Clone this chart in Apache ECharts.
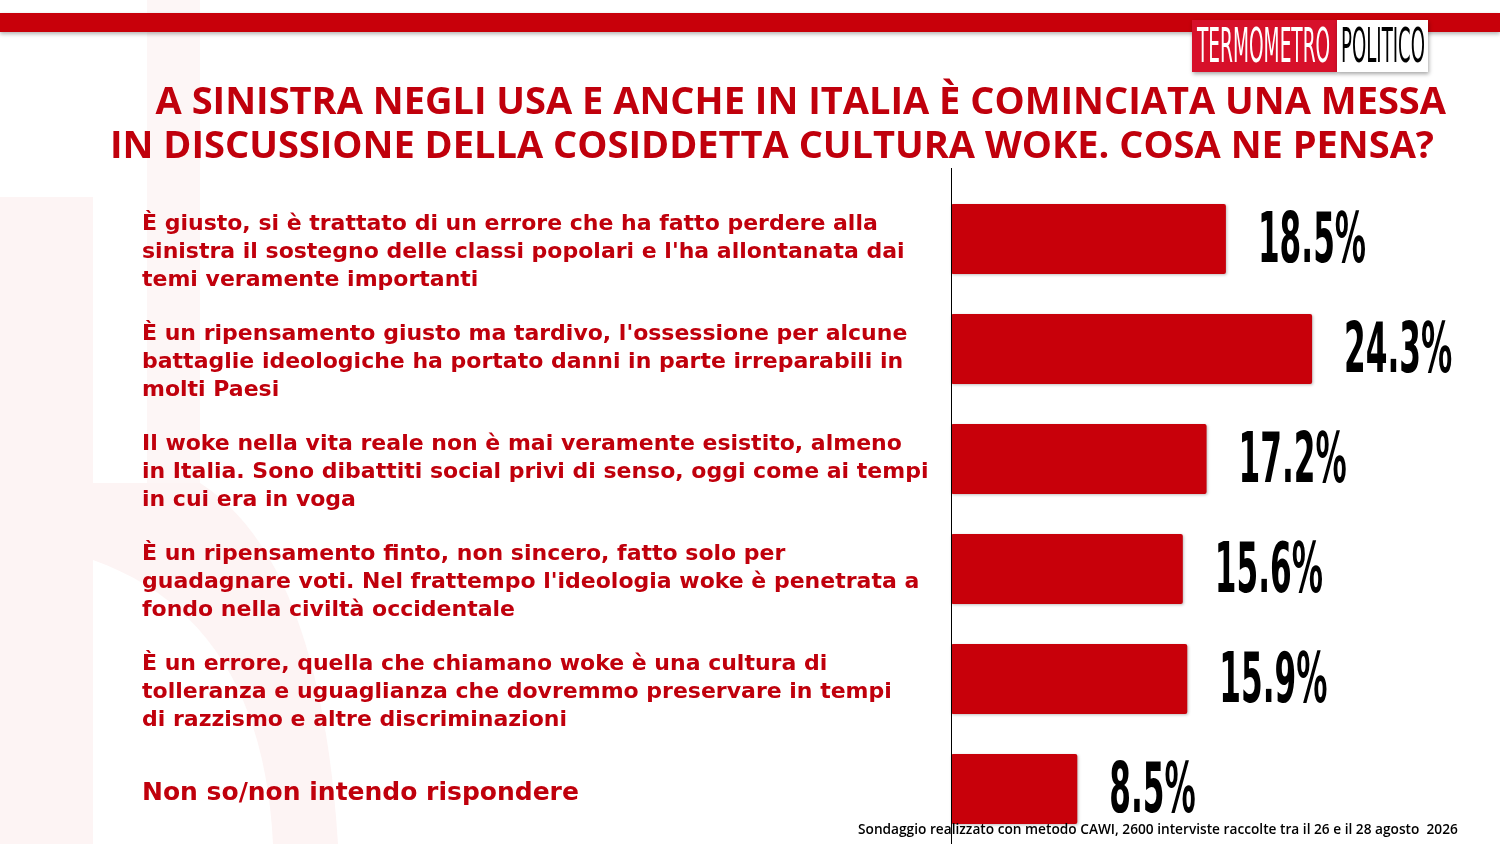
<!DOCTYPE html>
<html>
<head>
<meta charset="utf-8">
<script src="https://cdn.jsdelivr.net/npm/echarts@6/dist/echarts.min.js"></script>
<style>
html,body{margin:0;padding:0;background:#fff;}
#chart{width:1500px;height:844px;}
</style>
</head>
<body>
<div id="chart"></div>
<script>
const titleLines = [
  'A SINISTRA NEGLI USA E ANCHE IN ITALIA È COMINCIATA UNA MESSA',
  'IN DISCUSSIONE DELLA COSIDDETTA CULTURA WOKE. COSA NE PENSA?'
];
const categories = [
  "È giusto, si è trattato di un errore che ha fatto perdere alla\nsinistra il sostegno delle classi popolari e l'ha allontanata dai\ntemi veramente importanti",
  "È un ripensamento giusto ma tardivo, l'ossessione per alcune\nbattaglie ideologiche ha portato danni in parte irreparabili in\nmolti Paesi",
  "Il woke nella vita reale non è mai veramente esistito, almeno\nin Italia. Sono dibattiti social privi di senso, oggi come ai tempi\nin cui era in voga",
  "È un ripensamento finto, non sincero, fatto solo per\nguadagnare voti. Nel frattempo l'ideologia woke è penetrata a\nfondo nella civiltà occidentale",
  "È un errore, quella che chiamano woke è una cultura di\ntolleranza e uguaglianza che dovremmo preservare in tempi\ndi razzismo e altre discriminazioni",
  "Non so/non intendo rispondere"
];
const values = [18.5, 24.3, 17.2, 15.6, 15.9, 8.5];
const footnote = 'Sondaggio realizzato con metodo CAWI, 2600 interviste raccolte tra il 26 e il 28 agosto  2026';

const RED = '#c8000a';
const TXT = '#c0000c';
const WM = '#fdf4f4';

// decorative watermark bowl (quadratic curves sampled into a polygon)
function quad(p0, p1, p2, n) {
  const pts = [];
  for (let k = 0; k <= n; k++) {
    const t = k / n, u = 1 - t;
    pts.push([u*u*p0[0] + 2*u*t*p1[0] + t*t*p2[0], u*u*p0[1] + 2*u*t*p1[1] + t*t*p2[1]]);
  }
  return pts;
}
const bowl = [[93, 483]].concat(
  quad([200, 483], [320, 560], [338, 844], 24),
  quad([273, 844], [262, 620], [93, 560], 24)
);

const chart = echarts.init(document.getElementById('chart'), null, {renderer: 'canvas'});

const labelData = values.map((v, i) => [v, i]);

chart.setOption({
  backgroundColor: '#ffffff',
  animation: false,
  title: [
    {text: titleLines[0], right: 54, top: 84, padding: 0,
     textStyle: {fontFamily: 'Open Sans', fontWeight: 'bold', fontSize: 38, color: TXT}},
    {text: titleLines[1], right: 66, top: 128, padding: 0,
     textStyle: {fontFamily: 'Open Sans', fontWeight: 'bold', fontSize: 38, color: TXT}}
  ],
  grid: {left: 951, right: 103.2, top: 184, bottom: 0, containLabel: false},
  xAxis: {type: 'value', min: 0, max: 30, show: false},
  yAxis: {
    type: 'category', data: categories, inverse: true,
    axisLine: {show: false}, axisTick: {show: false},
    axisLabel: {
      margin: 809, align: 'left', color: TXT,
      fontFamily: 'DejaVu Sans', fontWeight: 'bold', fontSize: 22, lineHeight: 28,
      padding: [26, 0, 0, 0],
      formatter: function (v, i) { return i === 5 ? '{big|' + v + '}' : v; },
      rich: {big: {fontFamily: 'DejaVu Sans', fontWeight: 'bold', fontSize: 25, color: TXT, padding: [0, 0, 18, 0]}}
    }
  },
  series: [
    {
      type: 'bar', data: values, barWidth: 70,
      itemStyle: {color: RED, borderRadius: 2, shadowColor: 'rgba(0,0,0,0.25)', shadowBlur: 3, shadowOffsetX: 1, shadowOffsetY: 1},
      z: 2
    },
    {
      type: 'custom', data: labelData, encode: {x: 0, y: 1}, z: 3,
      renderItem: function (params, api) {
        const v = api.value(0);
        const p = api.coord([v, api.value(1)]);
        return {
          type: 'text', x: p[0] + 32, y: p[1] + 5, scaleX: 0.495,
          style: {
            text: v.toFixed(1) + '%',
            font: 'bold 70px "DejaVu Sans Condensed", "Liberation Sans Narrow", "Liberation Sans"',
            fill: '#000', stroke: '#fff', lineWidth: 3,
            align: 'left', verticalAlign: 'middle',
            shadowColor: 'rgba(0,0,0,0.3)', shadowBlur: 2, shadowOffsetX: 1, shadowOffsetY: 1
          }
        };
      }
    }
  ],
  graphic: [
    {type: 'rect', z: -10, shape: {x: 0, y: 197, width: 93, height: 647}, style: {fill: WM}},
    {type: 'rect', z: -10, shape: {x: 147, y: 0, width: 53, height: 484}, style: {fill: '#fdf6f6'}},
    {type: 'polygon', z: -10, shape: {points: bowl}, style: {fill: WM}},
    {type: 'rect', z: 5, shape: {x: 0, y: 13, width: 1500, height: 19},
     style: {fill: RED, shadowColor: 'rgba(0,0,0,0.3)', shadowBlur: 4, shadowOffsetY: 2}},
    {type: 'rect', z: 6, shape: {x: 1192, y: 20, width: 145, height: 52},
     style: {fill: '#d7102a', shadowColor: 'rgba(0,0,0,0.35)', shadowBlur: 4, shadowOffsetX: 1, shadowOffsetY: 2}},
    {type: 'rect', z: 6, shape: {x: 1337, y: 20, width: 91, height: 52},
     style: {fill: '#ffffff', shadowColor: 'rgba(0,0,0,0.35)', shadowBlur: 4, shadowOffsetX: 1, shadowOffsetY: 2}},
    {type: 'text', z: 7, x: 1197, y: 50, scaleX: 0.43,
     style: {text: 'TERMOMETRO', font: '48px "DejaVu Sans Condensed"', fill: '#fff', align: 'left', verticalAlign: 'middle'}},
    {type: 'text', z: 7, x: 1341, y: 50, scaleX: 0.42,
     style: {text: 'POLITICO', font: '48px "DejaVu Sans Condensed"', fill: '#000', align: 'left', verticalAlign: 'middle'}},
    {type: 'line', z: 4, shape: {x1: 951.5, y1: 168, x2: 951.5, y2: 844}, style: {stroke: '#000', lineWidth: 1}},
    {type: 'text', z: 8, x: 858, y: 830,
     style: {text: footnote, font: '600 13.7px "Open Sans"', fill: '#000', align: 'left', verticalAlign: 'middle'}}
  ]
});
</script>
</body>
</html>
